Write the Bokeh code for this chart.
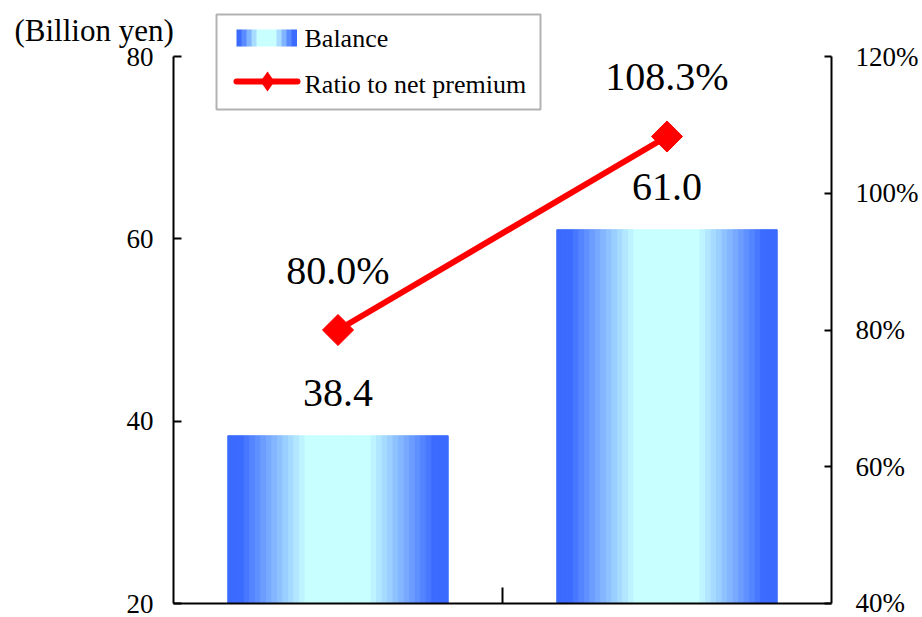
import numpy as np
from bokeh.plotting import figure
from bokeh.models import (Range1d, LinearAxis, FixedTicker, PrintfTickFormatter,
                          BoxAnnotation, PolyAnnotation, Label, ColumnDataSource)
from bokeh.core.properties import value
from bokeh.embed import file_html
from bokeh.resources import INLINE

# ---- data ----
categories = ["Previous", "Current"]
balance = [38.4, 61.0]
balance_labels = ["38.4", "61.0"]
ratio = [80.0, 108.3]
ratio_labels = ["80.0%", "108.3%"]
left_ticks = [20, 40, 60, 80]
right_ticks = [40, 60, 80, 100, 120]

FONT = "Liberation Serif"
EDGE = np.array([59, 106, 255])
CENTER = np.array([200, 255, 255])


def grad_color(d):
    t = np.clip((0.88 - d) / 0.6, 0, 1)
    c = EDGE + (CENTER - EDGE) * t
    return "#%02x%02x%02x" % tuple(int(round(v)) for v in c)


# frame covers the whole canvas; axes are pinned at the data edges
X0_PX, X1_PX, Y_TOP_PX, Y_BOT_PX, W, H = 173, 831, 56, 603, 922, 617
xs_per_px = 2.0 / (X1_PX - X0_PX)
ys_per_px = 60.0 / (Y_BOT_PX - Y_TOP_PX)
rs_per_px = 80.0 / (Y_BOT_PX - Y_TOP_PX)

p = figure(width=W, height=H, output_backend="svg", toolbar_location=None,
           x_range=Range1d(-X0_PX * xs_per_px, 2 + (W - X1_PX) * xs_per_px),
           y_range=Range1d(20 - (H - Y_BOT_PX) * ys_per_px, 80 + Y_TOP_PX * ys_per_px),
           min_border_left=0, min_border_right=0, min_border_top=0,
           min_border_bottom=0)
p.extra_y_ranges = {"ratio": Range1d(40 - (H - Y_BOT_PX) * rs_per_px,
                                     120 + Y_TOP_PX * rs_per_px)}
p.outline_line_color = None
p.xgrid.visible = False
p.ygrid.visible = False
p.background_fill_color = "white"
p.border_fill_color = "white"

# ---- bars as gradient stripes ----
xs = [i + 0.5 for i in range(len(categories))]
bar_w = 0.67
N = 40
sx, stop, swidth, scolor = [], [], [], []
for xc, v in zip(xs, balance):
    for k in range(N):
        frac = (k + 0.5) / N
        d = abs(frac - 0.5) / 0.5
        sx.append(xc - bar_w / 2 + frac * bar_w)
        stop.append(v)
        swidth.append(bar_w / N)
        scolor.append(grad_color(d))
src = ColumnDataSource(dict(x=sx, top=stop, w=swidth, c=scolor))
p.vbar(x="x", top="top", bottom=20, width="w", fill_color="c", line_color="c",
       line_width=1, source=src)

# ---- line ----
p.line(xs, ratio, y_range_name="ratio", line_color="#ff0000", line_width=6)
p.scatter(xs, ratio, y_range_name="ratio", marker="square", angle=np.pi / 4,
          size=22, fill_color="#ff0000", line_color="#ff0000")

# ---- value labels ----
p.text(xs, balance, text=balance_labels, text_font=value(FONT),
       text_font_size="40px", text_align="center", text_baseline="middle",
       y_offset=-43, text_color="black")
p.text(xs, ratio, text=ratio_labels, y_range_name="ratio", text_font=value(FONT),
       text_font_size="40px", text_align="center", text_baseline="middle",
       y_offset=-60, text_color="black")

# ---- axes ----
ya = p.yaxis[0]
ya.ticker = FixedTicker(ticks=left_ticks)
ya.fixed_location = 0
ya.bounds = (20, 80)
ya.major_tick_in = 8
ya.major_tick_out = 0
ya.minor_tick_line_color = None
ya.axis_line_width = 2
ya.major_tick_line_width = 2
ya.major_label_standoff = 20
ya.major_label_text_font = FONT
ya.major_label_text_font_size = "27px"
ya.major_label_text_color = "black"

ra = LinearAxis(y_range_name="ratio", ticker=FixedTicker(ticks=right_ticks),
                formatter=PrintfTickFormatter(format="%d%%"))
ra.fixed_location = 2
ra.bounds = (40, 120)
ra.major_tick_in = 7
ra.major_tick_out = 0
ra.minor_tick_line_color = None
ra.axis_line_width = 2
ra.major_tick_line_width = 2
ra.major_label_standoff = 24
ra.major_label_text_font = FONT
ra.major_label_text_font_size = "27px"
ra.major_label_text_color = "black"
p.add_layout(ra, "right")

xa = p.xaxis[0]
xa.ticker = FixedTicker(ticks=[1])
xa.fixed_location = 20
xa.bounds = (0, 2)
xa.major_tick_in = 16
xa.major_tick_out = 0
xa.minor_tick_line_color = None
xa.axis_line_width = 2
xa.major_tick_line_width = 2
xa.major_label_overrides = {1: ""}
xa.major_label_text_font_size = "1px"
xa.major_label_standoff = 0

# ---- unit label ----
p.add_layout(Label(x=14, y=30, x_units="canvas", y_units="canvas",
                   text="(Billion yen)", text_font=FONT, text_font_size="31px",
                   text_baseline="middle", text_align="left", text_color="black"))

# ---- legend (manual) ----
p.add_layout(BoxAnnotation(left=216, right=540, top=14, bottom=109,
                           left_units="canvas", right_units="canvas",
                           top_units="canvas", bottom_units="canvas",
                           fill_color="white", fill_alpha=1,
                           line_color="black", line_width=2, level="overlay"))
M = 12
for k in range(M):
    frac0 = k / M
    frac1 = (k + 1) / M
    d = abs((frac0 + frac1) / 2 - 0.5) / 0.5
    col = grad_color(d)
    p.add_layout(BoxAnnotation(left=236 + 60 * frac0, right=236 + 60 * frac1 + 0.5,
                               top=29, bottom=46,
                               left_units="canvas", right_units="canvas",
                               top_units="canvas", bottom_units="canvas",
                               fill_color=col, fill_alpha=1, line_color=None,
                               level="overlay"))
p.add_layout(BoxAnnotation(left=233, right=300, top=78, bottom=84,
                           left_units="canvas", right_units="canvas",
                           top_units="canvas", bottom_units="canvas",
                           fill_color="#ff0000", fill_alpha=1, line_color=None,
                           border_radius=3, level="overlay"))
p.add_layout(PolyAnnotation(xs=[267, 274, 267, 260], ys=[71, 81, 91, 81],
                            xs_units="canvas", ys_units="canvas",
                            fill_color="#ff0000", fill_alpha=1, line_color=None,
                            level="overlay"))
p.add_layout(Label(x=304, y=38, x_units="canvas", y_units="canvas", text="Balance",
                   text_font=FONT, text_font_size="26px", text_baseline="middle",
                   text_color="black", level="overlay"))
p.add_layout(Label(x=304, y=84, x_units="canvas", y_units="canvas",
                   text="Ratio to net premium", text_font=FONT,
                   text_font_size="26px", text_baseline="middle",
                   text_color="black", level="overlay"))

open("out.html", "w").write(file_html(p, INLINE))
